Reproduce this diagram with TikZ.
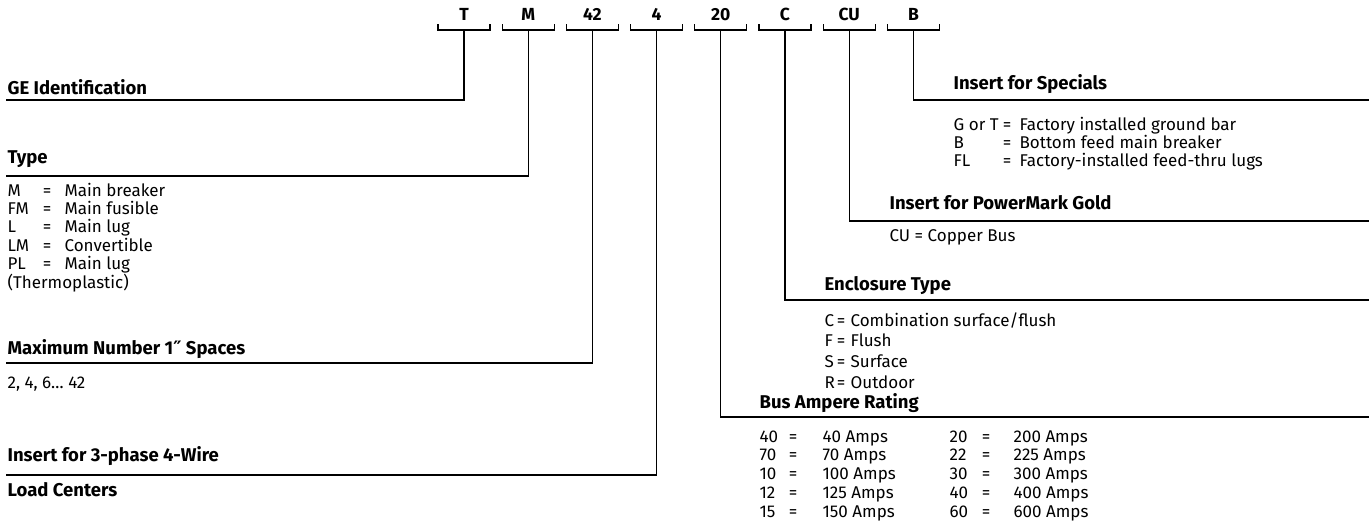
\documentclass[tikz,border=0pt]{standalone}
\usepackage{fontspec}
\setmainfont{Fira Sans}
\newfontfamily\symfont{DejaVu Sans}
\begin{document}
\begin{tikzpicture}[x=1pt,y=-1pt,
  line width=1.2pt,
  head/.style={font=\bfseries\fontsize{18.5}{20}\selectfont, anchor=base west, inner sep=0pt},
  item/.style={font=\fontsize{17}{19}\selectfont, anchor=base west, inner sep=0pt},
  eqs/.style={font=\fontsize{17}{19}\selectfont, anchor=base, inner sep=0pt},
  codelbl/.style={font=\bfseries\fontsize{17.5}{19}\selectfont, anchor=base, inner sep=0pt},
  bracketline/.style={line width=1.2pt},
  leader/.style={line width=1.2pt}
]
\useasboundingbox (0,0) rectangle (1369,528);

% code labels and brackets
\foreach \lbl/\nm [count=\i from 0] in {T/T,M/M,42/N,4/F,20/A,C/C,CU/U,B/B} {
  \pgfmathsetmacro\sx{464+64.2*\i}
  \node[codelbl] (c\nm) at (\sx,20) {\lbl};
  \coordinate (b\nm) at (\sx,30);
  \draw[bracketline] ([xshift=-26pt,yshift=6pt]b\nm) -- ([xshift=-26pt]b\nm) -- ([xshift=26pt]b\nm) -- ([xshift=26pt,yshift=6pt]b\nm);
}

% line ends
\coordinate (eGE) at (6,100);
\coordinate (eTy) at (6,176);
\coordinate (eMx) at (6,363);
\coordinate (e3p) at (6,475);
\coordinate (eSp) at (1369,100);
\coordinate (ePG) at (1369,221);
\coordinate (eEn) at (1369,300);
\coordinate (eBA) at (1369,417);

\draw[leader] (bT) |- (eGE);
\draw[leader] (bM) |- (eTy);
\draw[leader] (bN) |- (eMx);
\draw[leader] (bF) |- (e3p);
\draw[leader] (bA) |- (eBA);
\draw[leader] (bC) |- (eEn);
\draw[leader] (bU) |- (ePG);
\draw[leader] (bB) |- (eSp);

% left headings
\node[head] (hGE) at (7,94) {GE Identification};
\node[head] (hTy) at (7,163) {Type};
\node[head] (hMx) at (7,354) {Maximum Number 1{\symfont\bfseries ″} Spaces};
\node[item] (mx) at (7,388) {2, 4, 6… 42};
\node[head] (h3p) at (7,461) {Insert for 3-phase 4-Wire};
\node[head] (hLC) at (7,496) {Load Centers};

% type list
\foreach \c/\d [count=\i from 0] in {M/Main breaker,FM/Main fusible,L/Main lug,LM/Convertible,PL/Main lug} {
  \pgfmathsetmacro\yy{196+18.4*\i}
  \node[item] (tyc\i) at (7,\yy) {\c};
  \node[eqs] (tye\i) at (47,\yy) {=};
  \node[item] (tyd\i) at (64,\yy) {\d};
}
\node[item] (tyth) at (7,288) {(Thermoplastic)};

% specials
\node[head] (hSp) at (953,89) {Insert for Specials};
\foreach \c/\d [count=\i from 0] in {G or T/Factory installed ground bar,B/Bottom feed main breaker,FL/Factory-installed feed-thru lugs} {
  \pgfmathsetmacro\yy{130+18*\i}
  \node[item] (spc\i) at (953,\yy) {\c};
  \node[eqs] (spe\i) at (1007,\yy) {=};
  \node[item] (spd\i) at (1019,\yy) {\d};
}

% powermark
\node[head] (hPG) at (889,209) {Insert for PowerMark Gold};
\node[item] (pg) at (889,241) {CU = Copper Bus};

% enclosure
\node[head] (hEn) at (824,290) {Enclosure Type};
\foreach \c/\d/\yy [count=\i from 0] in {C/Combination surface\slash flush/326,F/Flush/346,S/Surface/367,R/Outdoor/388} {
  \node[item] (enc\i) at (824,\yy) {\c};
  \node[eqs] (ene\i) at (841,\yy) {=};
  \node[item] (end\i) at (850,\yy) {\d};
}

% bus ampere
\node[head] (hBA) at (759,408) {Bus Ampere Rating};
\foreach \a/\b/\c/\d/\yy [count=\i from 0] in {40/40 Amps/20/200 Amps/442,70/70 Amps/22/225 Amps/460.5,10/100 Amps/30/300 Amps/479,12/125 Amps/40/400 Amps/498,15/150 Amps/60/600 Amps/517} {
  \node[item] (bac\i) at (759,\yy) {\a};
  \node[eqs] (bae\i) at (793,\yy) {=};
  \node[item] (bad\i) at (822,\yy) {\b};
  \node[item] (bcc\i) at (949,\yy) {\c};
  \node[eqs] (bce\i) at (986,\yy) {=};
  \node[item] (bcd\i) at (1013,\yy) {\d};
}
\end{tikzpicture}
\end{document}
